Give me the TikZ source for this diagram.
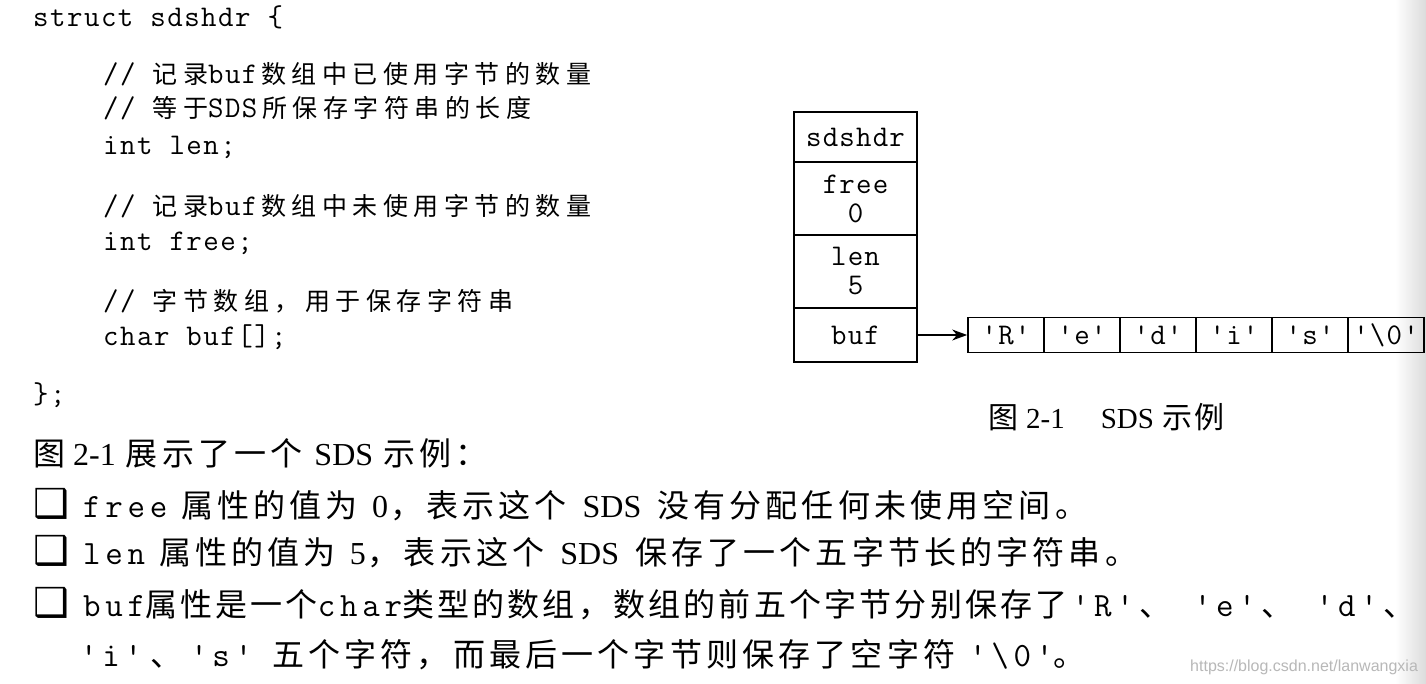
\documentclass[tikz,border=0pt]{standalone}
\usepackage{fontspec}
\setmainfont{Liberation Serif}
\newfontfamily\codemono[LetterSpace=5]{lmmono12-regular.otf}
\newfontfamily\boxmono[LetterSpace=4]{lmmono12-regular.otf}
\newfontfamily\monobody[LetterSpace=14]{lmmono12-regular.otf}
\newfontfamily\cjkcode[LetterSpace=22]{Noto Sans CJK SC}
\newfontfamily\cjkbody[LetterSpace=13]{Noto Sans CJK SC}
\newfontfamily\cjkbodyn[LetterSpace=10]{Noto Sans CJK SC}
\newfontfamily\cjkcap[LetterSpace=8]{Noto Sans CJK SC}
\newfontfamily\symfont{DejaVu Sans}
\newfontfamily\wmfont{Liberation Sans}
\usetikzlibrary{arrows.meta}
\newcommand\czh[1]{{\fontsize{25}{25}\cjkcode #1}}
\newcommand\bzh[1]{{\fontsize{32}{32}\cjkbody #1}}
\newcommand\nzh[1]{{\fontsize{32}{32}\cjkbodyn #1}}
\newcommand\kzh[1]{{\fontsize{30}{30}\cjkcap #1}}
\newcommand\bmono[1]{{\fontsize{34}{34}\monobody #1}}
\newcommand\chk{{\fontsize{40}{40}\symfont ❑}}
\tikzset{
  codetxt/.style={anchor=base west,inner sep=0pt,font=\fontsize{30}{30}\codemono},
  bodytxt/.style={anchor=base west,inner sep=0pt,font=\fontsize{32}{32}\rmfamily},
  captxt/.style={anchor=base west,inner sep=0pt,font=\fontsize{29}{29}\rmfamily},
  field/.style={draw,line width=1.7pt,minimum width=123pt,inner sep=0pt,align=center,
    font=\fontsize{30}{30}\boxmono},
  cell/.style={draw,line width=1.7pt,minimum width=76pt,minimum height=35pt,inner sep=0pt,
    font=\fontsize{30}{30}\boxmono},
  link/.style={line width=1.5pt,-{Stealth[length=15pt,width=11pt]}}
}
\begin{document}
\begin{tikzpicture}[x=1pt,y=-1pt]
\useasboundingbox[fill=white] (0,0) rectangle (1426,684);
\shade[left color=white,right color=black!14] (1395,0) rectangle (1426,684);
% code
\node[codetxt] (l0) at (33,27) {struct sdshdr \{};
\node[codetxt] (l1) at (103,84) {// \czh{记录}buf\hspace{4pt}\czh{数组中已使用字节的数量}};
\node[codetxt] (l2) at (103,118) {// \czh{等于}SDS\hspace{5pt}\czh{所保存字符串的长度}};
\node[codetxt] (l3) at (103,155) {int len;};
\node[codetxt] (l4) at (103,216) {// \czh{记录}buf\hspace{4pt}\czh{数组中未使用字节的数量}};
\node[codetxt] (l5) at (103,251) {int free;};
\node[codetxt] (l6) at (103,311) {// \czh{字节数组，用于保存字符串}};
\node[codetxt] (l7) at (103,345) {char buf[];};
\node[codetxt] (l8) at (33,403) {\};};
% struct box
\node[field,minimum height=50pt] (hdr) at (855.5,137) {sdshdr};
\node[field,minimum height=73pt] (free) at (855.5,198.5) {free\\[-1pt]0};
\node[field,minimum height=73pt] (len) at (855.5,271.5) {len\\[-1pt]5};
\node[field,minimum height=54pt] (buf) at (855.5,335) {buf};
% array
\node[cell] (c1) at (1006,335) {'R'};
\node[cell] (c2) at (1082,335) {'e'};
\node[cell] (c3) at (1158,335) {'d'};
\node[cell] (c4) at (1234,335) {'i'};
\node[cell] (c5) at (1310,335) {'s'};
\node[cell] (c6) at (1386,335) {'\textbackslash 0'};
\draw[link] (buf.east) -- (c1.west);
% caption
\node[captxt] (cap) at (988,428) {\kzh{图}\hspace{8pt}2-1\hspace{36pt}SDS\hspace{8pt}\kzh{示例}};
% body text
\node[bodytxt] (t1) at (33,465) {\bzh{图}\hspace{8pt}2-1\hspace{10pt}\bzh{展示了一个}\hspace{12pt}SDS\hspace{10pt}\bzh{示例：}};
\node[bodytxt] (t2) at (33,517) {\chk\hspace{14pt}\bmono{free}\hspace{14pt}\bzh{属性的值为}\hspace{14pt}0\hspace{2pt}\bzh{，表示这个}\hspace{16pt}SDS\hspace{16pt}\bzh{没有分配任何未使用空间。}};
\node[bodytxt] (t3) at (33,564) {\chk\hspace{14pt}\bmono{len}\hspace{14pt}\bzh{属性的值为}\hspace{14pt}5\hspace{2pt}\bzh{，表示这个}\hspace{16pt}SDS\hspace{16pt}\bzh{保存了一个五字节长的字符串。}};
\node[bodytxt] (t4) at (33,616) {\chk\hspace{14pt}\bmono{buf}\nzh{属性是一个}\bmono{char}\nzh{类型的数组，数组的前五个字节分别保存了}\hspace{4pt}\bmono{'R'}\hspace{6pt}\nzh{、}\hspace{22pt}\bmono{'e'}\hspace{6pt}\nzh{、}\hspace{22pt}\bmono{'d'}\hspace{6pt}\nzh{、}};
\node[bodytxt] (t5) at (80,666) {\bmono{'i'}\hspace{8pt}\bzh{、}\hspace{8pt}\bmono{'s'}\hspace{20pt}\bzh{五个字符，而最后一个字节则保存了空字符}\hspace{14pt}\bmono{'\textbackslash 0'}\bzh{。}};
\node[anchor=base west,inner sep=0pt,text=black!28,font=\fontsize{16}{16}\wmfont] (wm) at (1190,671) {https://blog.csdn.net/lanwangxia};
\end{tikzpicture}
\end{document}
